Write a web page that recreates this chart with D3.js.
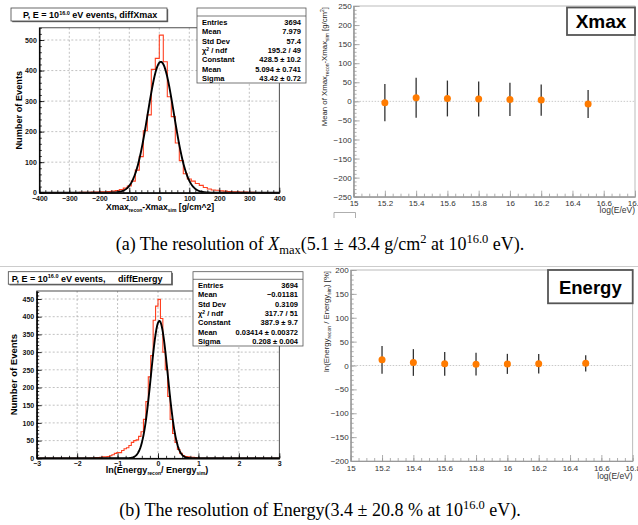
<!DOCTYPE html>
<html><head><meta charset="utf-8">
<script src="https://cdn.jsdelivr.net/npm/d3@7"></script>
<style>body{margin:0;background:#fff} svg{display:block}</style>
</head><body><svg id="c" width="638" height="525"></svg>
<script>
// ---------------- DATA ----------------
// (a) Xmax histogram: 60 bins over [-400, 400]
const xmaxRange = [-400, 400];
const xmaxCounts = [
  0,0,0,0,0,0,0,0,0,0,
  1,1,1,2,2,3,3,4,5,7,
  10,15,22,38,74,118,203,255,404,440,
  516,429,314,249,163,105,62,45,38,30,
  24,17,12,9,8,6,5,4,3,3,
  2,2,1,1,0,0,0,0,0,0];
const xmaxFit = {constant: 428.5, mean: 5.094, sigma: 43.42};
const xmaxStatLabels = ["Entries","Mean","Std Dev","χ2 / ndf","Constant","Mean","Sigma"];
const xmaxStatValues = ["3694","7.979","57.4","195.2 / 49","428.5 ± 10.2","5.094 ± 0.741","43.42 ± 0.72"];
const xmaxXTicks = [-400,-300,-200,-100,0,100,200,300,400];
const xmaxYTicks = [0,100,200,300,400,500];

// (b) Energy histogram: 100 bins over [-3, 3]
const energyRange = [-3, 3];
const energyCounts = [
  0,0,0,0,0,0,0,0,0,0,
  0,0,0,0,0,0,0,0,0,0,
  0,0,1,1,2,2,3,4,4,5,
  7,10,14,16,16,22,27,30,36,45,
  50,52,62,75,110,160,230,290,390,430,
  449,395,300,250,175,110,70,45,25,14,
  8,5,4,3,3,2,1,0,0,0,
  0,0,0,0,0,0,0,0,0,0,
  0,0,0,0,0,0,0,0,0,0,
  0,0,0,0,0,0,0,0,0,0];
const energyFit = {constant: 387.9, mean: 0.03414, sigma: 0.208};
const energyStatLabels = ["Entries","Mean","Std Dev","χ2 / ndf","Constant","Mean","Sigma"];
const energyStatValues = ["3694","−0.01181","0.3109","317.7 / 51","387.9 ± 9.7","0.03414 ± 0.00372","0.208 ± 0.004"];
const energyXTicks = [-3,-2,-1,0,1,2,3];
const energyYTicks = [0,50,100,150,200,250,300,350,400,450];

// resolution vs energy
const logE = [15.2, 15.4, 15.6, 15.8, 16.0, 16.2, 16.5];
const xmaxMean = [-3.5, 9.6, 7.5, 6.0, 5.1, 3.5, -7.0];
const xmaxSigma = [49, 52.5, 47, 46, 43.4, 41, 36.5];
const energyMean = [11.8, 6.3, 3.5, 2.8, 3.4, 3.5, 4.5];
const energySigma = [29, 28, 25, 24, 21, 20.5, 17];
const logETicks = [15, 15.2, 15.4, 15.6, 15.8, 16, 16.2, 16.4, 16.6, 16.8];
const xmaxResTicks = [-250,-200,-150,-100,-50,0,50,100,150,200,250];
const energyResTicks = [-200,-150,-100,-50,0,50,100,150,200];

// ---------------- DRAW ----------------
const SANS = "'Liberation Sans', Arial, Helvetica, sans-serif";
const SERIF = "'Liberation Serif', 'Times New Roman', serif";
const svg = d3.select('#c');
svg.append('rect').attr('width',638).attr('height',525).attr('fill','#fff');
let clipId = 0;

function fmtNum(d){ return d3.format('')(d).replace('-', '−'); }

function richText(parent, parts, base){
  // parts: [text, kind] kind: '', 'sub', 'sup', 'it'
  parts.forEach(p=>{
    const t = parent.append('tspan').text(p[0]);
    if (p[1]==='sub') t.attr('dy', base.subDy).style('font-size', base.small+'px');
    else if (p[1]==='sup') t.attr('dy', -base.supDy).style('font-size', base.small+'px');
    else if (p[1]==='it') t.style('font-style','italic');
    if (p[2]) t.attr('dy', p[2]);
  });
}

function histPanel(o){
  const g = svg.append('g');
  const x = d3.scaleLinear().domain(o.xDomain).range([o.l, o.r]);
  const y = d3.scaleLinear().domain(o.yDomain).range([o.b, o.t]);
  // grid
  g.append('g').selectAll('line').data(o.xTicks.slice(1,-1)).join('line')
    .attr('x1',d=>x(d)).attr('x2',d=>x(d)).attr('y1',o.t).attr('y2',o.b)
    .attr('stroke','#a8a8a8').attr('stroke-width',0.7).attr('stroke-dasharray','2,2');
  g.append('g').selectAll('line').data(o.yTicks.slice(1)).join('line')
    .attr('y1',d=>y(d)).attr('y2',d=>y(d)).attr('x1',o.l).attr('x2',o.r)
    .attr('stroke','#a8a8a8').attr('stroke-width',0.7).attr('stroke-dasharray','2,2');
  // clip
  const cid = 'clip'+(clipId++);
  svg.append('clipPath').attr('id',cid).append('rect')
    .attr('x',o.l).attr('y',o.t).attr('width',o.r-o.l).attr('height',o.b-o.t);
  // histogram
  const n = o.counts.length, bw = (o.xDomain[1]-o.xDomain[0])/n;
  const pts = [];
  o.counts.forEach((c,i)=>{ const x0 = o.xDomain[0]+i*bw; pts.push([x0,c],[x0+bw,c]); });
  g.append('path').attr('clip-path',`url(#${cid})`)
    .attr('d', d3.line().x(d=>x(d[0])).y(d=>y(d[1]))(pts))
    .attr('fill','none').attr('stroke','#ff4020').attr('stroke-width',1.1);
  // fit
  const f = o.fit;
  const fx = d3.range(0,601).map(i=>o.xDomain[0]+i*(o.xDomain[1]-o.xDomain[0])/600);
  g.append('path').attr('clip-path',`url(#${cid})`)
    .attr('d', d3.line().x(d=>x(d)).y(d=>y(f.constant*Math.exp(-0.5*((d-f.mean)/f.sigma)**2)))(fx))
    .attr('fill','none').attr('stroke','#000').attr('stroke-width',1.9);
  // frame
  g.append('rect').attr('x',o.l).attr('y',o.t).attr('width',o.r-o.l).attr('height',o.b-o.t)
    .attr('fill','none').attr('stroke','#222').attr('stroke-width',0.8);
  // axes
  const style = sel => { sel.select('.domain').attr('stroke','#000').attr('stroke-width',1);
    sel.selectAll('.tick line').attr('stroke','#000').attr('stroke-width',0.8);
    sel.selectAll('text').attr('font-family',SANS).attr('font-size',o.tickFont).attr('font-weight','bold').attr('fill','#111'); };
  g.append('g').attr('transform',`translate(0,${o.b})`)
    .call(d3.axisBottom(x).tickValues(o.xTicks).tickSizeInner(-5).tickSizeOuter(0).tickPadding(3).tickFormat(fmtNum)).call(style);
  g.append('g').attr('transform',`translate(0,${o.b})`)
    .call(d3.axisBottom(x).tickValues(o.xMinor).tickSizeInner(-2.5).tickSizeOuter(0).tickFormat('')).call(style);
  g.append('g').attr('transform',`translate(${o.l},0)`)
    .call(d3.axisLeft(y).tickValues(o.yTicks).tickSizeInner(-5).tickSizeOuter(0).tickPadding(2.5).tickFormat(fmtNum)).call(style);
  g.append('g').attr('transform',`translate(${o.l},0)`)
    .call(d3.axisLeft(y).tickValues(o.yMinor).tickSizeInner(-2.5).tickSizeOuter(0).tickFormat('')).call(style);
  // axis titles
  const yt = g.append('text').attr('transform',`translate(${o.yTitleX},${(o.t+o.b)/2}) rotate(-90)`)
    .attr('text-anchor','middle').attr('font-family',SANS).attr('font-weight','bold').attr('font-size',o.yTitleFont)
    .text('Number of Events');
  const xt = g.append('text').attr('x',o.xTitleX).attr('y',o.xTitleY).attr('text-anchor','middle')
    .attr('font-family',SANS).attr('font-weight','bold').attr('font-size',o.xTitleFont);
  richText(xt, o.xTitle, {subDy:2.2, supDy:3, small:5});
  // title box
  const tb = o.titleBox;
  g.append('rect').attr('x',tb.x+1.2).attr('y',tb.y+1.2).attr('width',tb.w).attr('height',tb.h).attr('fill','#666');
  g.append('rect').attr('x',tb.x).attr('y',tb.y).attr('width',tb.w).attr('height',tb.h).attr('fill','#fff').attr('stroke','#444').attr('stroke-width',0.8);
  const tt = g.append('text').attr('x',tb.tx).attr('y',tb.ty).attr('font-family',SANS).attr('font-weight','bold').attr('font-size',9).attr('xml:space','preserve');
  richText(tt, [['P, E = 10',''],['16.0','sup'],[' eV events, '+o.titleTail,'',3.2]], {subDy:2, supDy:3.2, small:5.5});
  // stats box
  const sb = o.statBox;
  g.append('rect').attr('x',sb.x).attr('y',sb.y).attr('width',sb.w).attr('height',sb.h).attr('fill','#fff').attr('stroke','#555').attr('stroke-width',0.8);
  g.append('line').attr('x1',sb.x).attr('x2',sb.x+sb.w).attr('y1',sb.hy).attr('y2',sb.hy).attr('stroke','#555').attr('stroke-width',0.8);
  o.statLabels.forEach((lab,i)=>{
    const yy = sb.row0 + i*sb.dy;
    const t = g.append('text').attr('x',sb.x+5).attr('y',yy).attr('font-family',SANS).attr('font-weight','bold').attr('font-size',7.5);
    if (lab.startsWith('χ2')) { richText(t, [['χ',''],['2','sup'],[' / ndf','',2.5]], {subDy:2,supDy:2.5,small:5}); }
    else t.text(lab);
    g.append('text').attr('x',sb.x+sb.w-5).attr('y',yy).attr('text-anchor','end').attr('font-family',SANS).attr('font-weight','bold').attr('font-size',7.5).text(o.statValues[i]);
  });
}

function resPanel(o){
  const g = svg.append('g');
  const x = d3.scaleLinear().domain([15,16.8]).range([o.l, o.r]);
  const y = d3.scaleLinear().domain(o.yDomain).range([o.b, o.t]);
  g.append('rect').attr('x',o.l).attr('y',o.t).attr('width',o.r-o.l).attr('height',o.b-o.t)
    .attr('fill','none').attr('stroke','#aaa').attr('stroke-width',0.8);
  g.append('line').attr('x1',o.l).attr('x2',o.r).attr('y1',y(0)).attr('y2',y(0))
    .attr('stroke','#bbb').attr('stroke-width',0.8).attr('stroke-dasharray','1.5,1.5');
  const style = sel => { sel.select('.domain').attr('stroke','#999').attr('stroke-width',0.9);
    sel.selectAll('.tick line').attr('stroke','#999').attr('stroke-width',0.8);
    sel.selectAll('text').attr('font-family',SANS).attr('font-size',8).attr('fill','#333'); };
  const yMinor = d3.range(o.yDomain[0], o.yDomain[1]+0.1, 10);
  const xMinor = d3.range(15, 16.801, 0.05);
  g.append('g').attr('transform',`translate(0,${o.b})`)
    .call(d3.axisBottom(x).tickValues(logETicks).tickSizeInner(-6).tickSizeOuter(0).tickPadding(4).tickFormat(d=>d3.format('')(+d.toFixed(1)))).call(style);
  g.append('g').attr('transform',`translate(0,${o.b})`)
    .call(d3.axisBottom(x).tickValues(xMinor).tickSizeInner(-3).tickSizeOuter(0).tickFormat('')).call(style);
  g.append('g').attr('transform',`translate(${o.l},0)`)
    .call(d3.axisLeft(y).tickValues(o.yTicks).tickSizeInner(-6).tickSizeOuter(0).tickPadding(2).tickFormat(fmtNum)).call(style);
  g.append('g').attr('transform',`translate(${o.l},0)`)
    .call(d3.axisLeft(y).tickValues(yMinor).tickSizeInner(-3).tickSizeOuter(0).tickFormat('')).call(style);
  // error bars + points
  const pts = logE.map((e,i)=>({e, m:o.mean[i], s:o.sigma[i]}));
  g.append('g').selectAll('line').data(pts).join('line')
    .attr('x1',d=>x(d.e)).attr('x2',d=>x(d.e)).attr('y1',d=>y(d.m+d.s)).attr('y2',d=>y(d.m-d.s))
    .attr('stroke','#333').attr('stroke-width',1.3);
  g.append('g').selectAll('circle').data(pts).join('circle')
    .attr('cx',d=>x(d.e)).attr('cy',d=>y(d.m)).attr('r',3.5).attr('fill','#ff7b00');
  // titles
  g.append('text').attr('x',o.r).attr('y',o.xTitleY).attr('text-anchor','end')
    .attr('font-family',SANS).attr('font-size',8.5).attr('fill','#333').text('log(E/eV)');
  const yt = g.append('text').attr('transform',`translate(${o.yTitleX},${o.t+1}) rotate(-90)`)
    .attr('text-anchor','end').attr('font-family',SANS).attr('font-size',7.8).attr('fill','#222');
  richText(yt, o.yTitle, {subDy:1.8, supDy:2.8, small:5});
  // label box
  const lb = o.labelBox;
  g.append('rect').attr('x',lb.x).attr('y',lb.y).attr('width',lb.w).attr('height',lb.h)
    .attr('fill','#fff').attr('stroke','#555').attr('stroke-width',1.8);
  g.append('text').attr('x',lb.x+lb.w/2).attr('y',lb.ty).attr('text-anchor','middle')
    .attr('font-family',SANS).attr('font-weight','bold').attr('font-size',lb.fs).attr('fill','#000').text(lb.text);
}

// top-left: Xmax histogram
histPanel({l:39.3, r:279.3, t:27.8, b:192.7, xDomain:xmaxRange, yDomain:[0,540], counts:xmaxCounts, fit:xmaxFit,
  xTicks:xmaxXTicks, xMinor:d3.range(-400,401,20), yTicks:xmaxYTicks, yMinor:d3.range(0,541,20), tickFont:7,
  yTitleX:21.5, yTitleFont:9.2, xTitleX:160, xTitleY:210, xTitleFont:8.5,
  xTitle:[['Xmax',''],['recon','sub'],['-Xmax','',-2.2],['sim','sub'],[' [g/cm^2]','',-2.2]],
  titleBox:{x:11,y:8,w:156,h:13,tx:23,ty:18.2}, titleTail:'diffXmax',
  statBox:{x:197,y:8,w:109,h:75,hy:16,row0:25,dy:9.35}, statLabels:xmaxStatLabels, statValues:xmaxStatValues});

// bottom-left: Energy histogram
histPanel({l:36.7, r:279.3, t:291, b:458.3, xDomain:energyRange, yDomain:[0,472.6], counts:energyCounts, fit:energyFit,
  xTicks:energyXTicks, xMinor:d3.range(-3,3.001,0.2), yTicks:energyYTicks, yMinor:d3.range(0,471,10), tickFont:7,
  yTitleX:16.8, yTitleFont:9.5, xTitleX:157, xTitleY:473, xTitleFont:9,
  xTitle:[['ln(Energy',''],['recon','sub'],['/ Energy','',-2.2],['sim','sub'],[')','',-2.2]],
  titleBox:{x:8.3,y:271.7,w:163.4,h:12.5,tx:11.7,ty:281.5}, titleTail:'    diffEnergy',
  statBox:{x:193,y:271.7,w:110,h:74.3,hy:279.3,row0:288,dy:9.35}, statLabels:energyStatLabels, statValues:energyStatValues});

// top-right: Xmax resolution
resPanel({l:353.6, r:635, t:6, b:196.7, yDomain:[-250,250], yTicks:xmaxResTicks, mean:xmaxMean, sigma:xmaxSigma,
  xTitleY:213, yTitleX:327,
  yTitle:[['Mean of Xmax',''],['recon','sub'],['-Xmax','',-1.8],['sim','sub'],[' [g/cm','',-1.8],['2','sup'],[']','',2.8]],
  labelBox:{x:567,y:7.5,w:68,h:27.5,ty:28,fs:19,text:'Xmax'}});

// bottom-right: Energy resolution
resPanel({l:350.7, r:632.7, t:270, b:461, yDomain:[-200,200], yTicks:energyResTicks, mean:energyMean, sigma:energySigma,
  xTitleY:479, yTitleX:329,
  yTitle:[['ln(Energy',''],['recon','sub'],[' / Energy','',-1.8],['sim','sub'],[') [%]','',-1.8]],
  labelBox:{x:548,y:270,w:84.7,h:33.3,ty:293.5,fs:18.5,text:'Energy'}});

// separator line at top of (b) plots
svg.append('line').attr('x1',0).attr('x2',638).attr('y1',266.5).attr('y2',266.5).attr('stroke','#ccc').attr('stroke-width',1);
// small leftover box under top-right panel
svg.append('path').attr('d','M334,218V212.5H355.5V218').attr('fill','none').attr('stroke','#999').attr('stroke-width',0.8);

// captions
function caption(yb, parts){
  const t = svg.append('text').attr('x',320).attr('y',yb).attr('text-anchor','middle')
    .attr('font-family',SERIF).attr('font-size',18).attr('fill','#000');
  richText(t, parts, {subDy:3.5, supDy:7, small:12.5});
}
caption(250, [['(a) The resolution of ',''],['X','it'],['max','sub'],['(5.1 ± 43.4 g/cm','',-3.5],['2','sup'],[' at 10','',7],['16.0','sup'],[' eV).','',7]]);
caption(516, [['(b) The resolution of Energy(3.4 ± 20.8 % at 10',''],['16.0','sup'],[' eV).','',7]]);
</script></body></html>
